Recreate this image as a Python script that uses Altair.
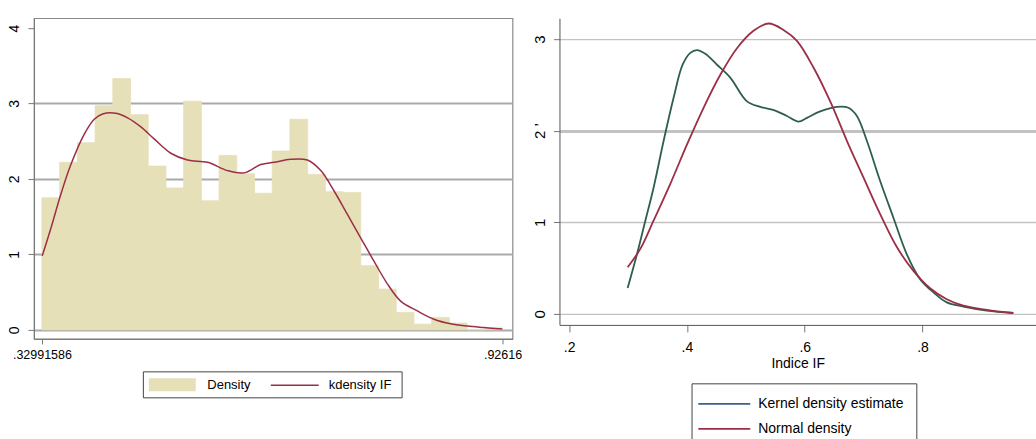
import altair as alt
import pandas as pd

FONT = "Liberation Sans"

# ---------------- left panel data ----------------
hist_min = 0.32991586
hist_max = 0.92616
hist_density = [1.75, 2.22, 2.48, 2.97, 3.33, 2.85, 2.17, 1.88, 3.03, 1.71,
                2.31, 2.07, 1.81, 2.37, 2.79, 2.06, 1.83, 1.82, 0.85, 0.54,
                0.23, 0.075, 0.165, 0.09, 0.0, 0.025]

kd_x = [0.3303, 0.3416, 0.3545, 0.3674, 0.3846, 0.3976, 0.4084, 0.4256, 0.4408,
        0.4580, 0.4752, 0.4968, 0.5184, 0.5443, 0.5702, 0.5917, 0.6133, 0.6305,
        0.6520, 0.6736, 0.6909, 0.7081, 0.7254, 0.7425, 0.7597, 0.7771, 0.7943,
        0.8159, 0.8374, 0.8590, 0.8806, 0.9020, 0.9258]
kd_y = [0.98, 1.35, 1.80, 2.19, 2.59, 2.79, 2.86, 2.87, 2.81, 2.69, 2.53, 2.34,
        2.25, 2.22, 2.11, 2.08, 2.19, 2.22, 2.26, 2.25, 2.11, 1.84, 1.53, 1.22,
        0.91, 0.61, 0.38, 0.25, 0.14, 0.08, 0.05, 0.03, 0.01]

left_y_ticks = [0, 1, 2, 3, 4]
left_legend = ["Density", "kdensity IF"]

# ---------------- right panel data ----------------
kern_x = [0.2994, 0.3153, 0.3294, 0.3435, 0.3605, 0.3774, 0.3927, 0.4058, 0.4171,
          0.4312, 0.4511, 0.4736, 0.5020, 0.5245, 0.5500, 0.5698, 0.5895, 0.6037,
          0.6263, 0.6546, 0.6743, 0.6886, 0.7055, 0.7281, 0.7506, 0.7734, 0.7959,
          0.8185, 0.8412, 0.8694, 0.9091, 0.9542]
kern_y = [0.283, 0.654, 1.016, 1.38, 1.89, 2.36, 2.72, 2.85, 2.88, 2.84, 2.72,
          2.58, 2.32, 2.26, 2.22, 2.16, 2.10, 2.14, 2.21, 2.26, 2.25, 2.16, 1.89,
          1.45, 1.05, 0.65, 0.38, 0.235, 0.126, 0.08, 0.036, 0.01]

norm_x = [0.2994, 0.3209, 0.3435, 0.3718, 0.4002, 0.4283, 0.4567, 0.4850, 0.5131,
          0.5386, 0.5640, 0.5868, 0.6149, 0.6433, 0.6716, 0.6997, 0.7281, 0.7564,
          0.7846, 0.8129, 0.8412, 0.8694, 0.9091, 0.9542]
norm_y = [0.51, 0.71, 1.02, 1.42, 1.85, 2.25, 2.61, 2.90, 3.09, 3.17, 3.10, 2.98,
          2.69, 2.32, 1.89, 1.49, 1.09, 0.73, 0.47, 0.28, 0.16, 0.09, 0.044, 0.01]

right_x_ticks = [0.2, 0.4, 0.6, 0.8]
right_y_ticks = [0, 1, 2, 3]
right_legend = ["Kernel density estimate", "Normal density"]
x_title = "Indice IF"

# ---------------- colours ----------------
BAR = "#e6e0b9"
RED = "#9b2f45"
GREEN = "#2e5e4e"
BLUE = "#3b6189"

# ---------------- tables ----------------
n_bins = len(hist_density)
bw = (hist_max - hist_min) / n_bins
hist_df = pd.DataFrame({
    "x0": [hist_min + i * bw for i in range(n_bins)],
    "x1": [hist_min + (i + 1) * bw for i in range(n_bins)],
    "d": hist_density,
})
kd_df = pd.DataFrame({"x": kd_x, "y": kd_y})
kern_df = pd.DataFrame({"x": kern_x, "y": kern_y})
norm_df = pd.DataFrame({"x": norm_x, "y": norm_y})
one = pd.DataFrame({"k": [0]})

# ---------------- left panel ----------------
LW, LH = 479, 321
lx_scale = alt.Scale(domain=[0.3196, 0.9391], nice=False, zero=False)
ly_scale = alt.Scale(domain=[-0.12, 4.13], nice=False, zero=False)

lx_axis = alt.Axis(values=[hist_min, hist_max],
                   labelExpr="substring(format(datum.value, '.8~f'), 1)",
                   title=None, grid=False, tickSize=5, labelPadding=5,
                   labelFont=FONT, labelFontSize=12.5, labelColor="black",
                   domainColor="#777", tickColor="#777", labelFlush=False)
ly_axis = alt.Axis(values=left_y_ticks, title=None, tickSize=6, labelPadding=6,
                   labelAngle=270, labelAlign="center", labelBaseline="bottom",
                   labelExpr="format(datum.value, 'd')",
                   labelFont=FONT, labelFontSize=14, labelColor="black",
                   domainColor="#777", tickColor="#777",
                   grid=True, gridColor="#a9a9a9", gridWidth=2,
                   gridOpacity={"condition": {"test": "datum.value == 4", "value": 0}, "value": 1})

bars = alt.Chart(hist_df).mark_rect(color=BAR, stroke=BAR, strokeWidth=0.8).encode(
    x=alt.X("x0:Q", scale=lx_scale, axis=lx_axis),
    x2="x1:Q",
    y=alt.Y("d:Q", scale=ly_scale, axis=ly_axis),
    y2=alt.datum(0),
)
kd_line = alt.Chart(kd_df).mark_line(color=RED, strokeWidth=1.5, interpolate="catmull-rom").encode(
    x=alt.X("x:Q", scale=lx_scale),
    y=alt.Y("y:Q", scale=ly_scale),
)

lleg_box = alt.Chart(one).mark_rect(fill="white", stroke="#444", strokeWidth=1).encode(
    x=alt.value(109.5), x2=alt.value(368.5), y=alt.value(354), y2=alt.value(380))
lleg_sw = alt.Chart(one).mark_rect(fill=BAR).encode(
    x=alt.value(115), x2=alt.value(162), y=alt.value(360.5), y2=alt.value(373.5))
lleg_line = alt.Chart(one).mark_rule(color=RED, strokeWidth=1.5).encode(
    x=alt.value(237), x2=alt.value(285), y=alt.value(367.5))
lleg_t1 = alt.Chart(one).mark_text(align="left", baseline="middle", font=FONT,
                                    fontSize=13, color="black", text=left_legend[0]).encode(
    x=alt.value(173.5), y=alt.value(367.5))
lleg_t2 = alt.Chart(one).mark_text(align="left", baseline="middle", font=FONT,
                                    fontSize=13, color="black", text=left_legend[1]).encode(
    x=alt.value(295), y=alt.value(367.5))

left = alt.layer(bars, kd_line, lleg_box, lleg_sw, lleg_line, lleg_t1, lleg_t2).properties(
    width=LW, height=LH,
    view=alt.ViewBackground(stroke="#8a8a8a", strokeWidth=1.2, fill="white"),
)

# ---------------- right panel ----------------
RW, RH = 477, 307
rx_scale = alt.Scale(domain=[0.1836, 0.9927], nice=False, zero=False)
ry_scale = alt.Scale(domain=[-0.12, 3.228], nice=False, zero=False)

rx_axis = alt.Axis(values=right_x_ticks,
                   labelExpr="substring(format(datum.value, '.1f'), 1)",
                   title=x_title, titleFont=FONT, titleFontSize=14, titleFontWeight="normal",
                   titleColor="black", titlePadding=2,
                   grid=False, tickSize=7, labelPadding=9,
                   labelFont=FONT, labelFontSize=14, labelColor="black",
                   domainColor="#555", tickColor="#777", labelFlush=False)
ry_axis = alt.Axis(values=right_y_ticks, title=None, tickSize=6, labelPadding=6,
                   labelAngle=270, labelAlign="center", labelBaseline="bottom",
                   labelExpr="datum.value == 2 ? '2 \u2019' : format(datum.value, 'd')",
                   labelFont=FONT, labelFontSize=15, labelColor="black",
                   domainColor="#555", tickColor="#777",
                   grid=True, gridColor="#c2c2c2",
                   gridWidth={"condition": {"test": "datum.value == 2", "value": 3}, "value": 1.4})

kern_line = alt.Chart(kern_df).mark_line(color=GREEN, strokeWidth=1.8, interpolate="catmull-rom").encode(
    x=alt.X("x:Q", scale=rx_scale, axis=rx_axis),
    y=alt.Y("y:Q", scale=ry_scale, axis=ry_axis),
)
norm_line = alt.Chart(norm_df).mark_line(color=RED, strokeWidth=1.8, interpolate="catmull-rom").encode(
    x=alt.X("x:Q", scale=rx_scale),
    y=alt.Y("y:Q", scale=ry_scale),
)

rleg_bg = alt.Chart(one).mark_rect(fill="white").encode(
    x=alt.value(132.7), x2=alt.value(357.7), y=alt.value(366), y2=alt.value(421.5))
rleg_top = alt.Chart(one).mark_rule(color="#444", strokeWidth=1).encode(
    x=alt.value(132.7), x2=alt.value(357.7), y=alt.value(366))
rleg_l = alt.Chart(one).mark_rule(color="#444", strokeWidth=1).encode(
    x=alt.value(132.7), y=alt.value(366), y2=alt.value(421.5))
rleg_r = alt.Chart(one).mark_rule(color="#444", strokeWidth=1).encode(
    x=alt.value(357.7), y=alt.value(366), y2=alt.value(421.5))
rleg_l1 = alt.Chart(one).mark_rule(color=BLUE, strokeWidth=1.8).encode(
    x=alt.value(139), x2=alt.value(191), y=alt.value(386))
rleg_l2 = alt.Chart(one).mark_rule(color=RED, strokeWidth=1.8).encode(
    x=alt.value(139), x2=alt.value(191), y=alt.value(411))
rleg_t1 = alt.Chart(one).mark_text(align="left", baseline="middle", font=FONT,
                                    fontSize=14, color="black", text=right_legend[0]).encode(
    x=alt.value(199), y=alt.value(386))
rleg_t2 = alt.Chart(one).mark_text(align="left", baseline="middle", font=FONT,
                                    fontSize=14, color="black", text=right_legend[1]).encode(
    x=alt.value(199), y=alt.value(411))

right = alt.layer(kern_line, norm_line, rleg_bg, rleg_top, rleg_l, rleg_r,
                  rleg_l1, rleg_l2, rleg_t1, rleg_t2).properties(
    width=RW, height=RH,
    view=alt.ViewBackground(strokeOpacity=0, fill="white"),
)

chart = alt.hconcat(left, right, spacing=47, bounds="flush").resolve_scale(
    x="independent", y="independent"
).properties(
    padding={"left": 7, "top": 17, "right": 0, "bottom": 0},
    background="white",
)

chart.save("out.html", embed_options={"renderer": "svg", "actions": False})
